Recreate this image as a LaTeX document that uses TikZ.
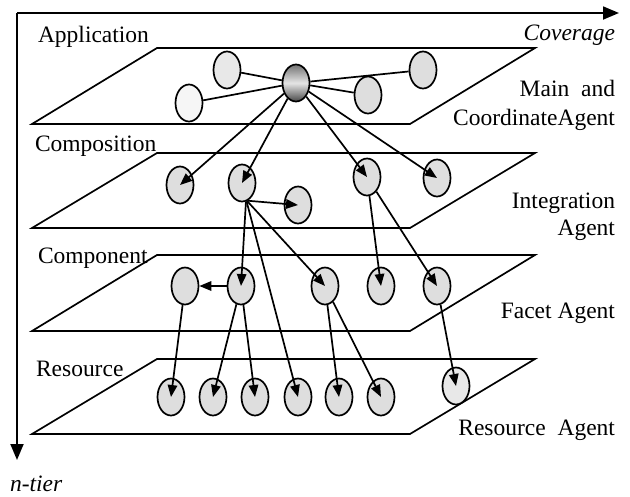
\documentclass[tikz,border=0pt]{standalone}
\usepackage{fontspec}
\setmainfont{Liberation Serif}
\usetikzlibrary{shapes.geometric,arrows.meta}
\definecolor{agentfill}{gray}{0.87}
\definecolor{agentlight}{gray}{0.91}
\definecolor{agentpale}{gray}{0.965}
\tikzset{
  lbl/.style={font=\fontsize{23.5}{30}\selectfont, inner sep=0pt, outer sep=0pt},
  plane/.style={draw, line width=1.7pt, line join=miter},
  agent/.style={ellipse, draw, line width=1.7pt, minimum width=27pt, minimum height=37pt, inner sep=0pt, fill=agentfill},
  link/.style={line width=1.7pt},
  arr/.style={line width=1.7pt, -{Triangle[length=12pt,width=9.5pt]}},
  axis/.style={line width=1.8pt, -{Triangle[length=16pt,width=13pt]}},
}
\begin{document}
\begin{tikzpicture}[x=1pt,y=-1pt]
\useasboundingbox (0,0) rectangle (630,496);
% axes
\coordinate (origin) at (17,13);
\coordinate (xend) at (619,13);
\coordinate (yend) at (17,460);
\draw[axis] (origin) -- (xend);
\draw[axis] (origin) -- (yend);
% planes
\draw[plane] (32,124) -- (157,48) -- (535,48) -- (410,124) -- cycle;
\draw[plane] (32,228) -- (157,153) -- (535,153) -- (410,228) -- cycle;
\draw[plane] (32,331) -- (157,255) -- (535,255) -- (410,331) -- cycle;
\draw[plane] (32,434) -- (157,359) -- (535,359) -- (410,434) -- cycle;
% labels
\node[lbl, anchor=base west] (lapp) at (38,42.7) {Application};
\node[lbl, anchor=base west] (lcps) at (35,151.7) {Composition};
\node[lbl, anchor=base west] (lcmp) at (38,263.3) {Component};
\node[lbl, anchor=base west] (lres) at (36,376) {Resource};
\node[lbl, anchor=base east] (lcov) at (615,40.7) {\itshape Coverage};
\node[lbl, anchor=base west] (ltier) at (10,491.7) {\itshape n-tier};
\node[lbl, anchor=base east] (lmain) at (615,96.7) {Main\ \ and};
\node[lbl, anchor=base east] (lcoord) at (615,125) {CoordinateAgent};
\node[lbl, anchor=base east] (lint) at (615,208.3) {Integration};
\node[lbl, anchor=base east] (lintb) at (615,235) {Agent};
\node[lbl, anchor=base east] (lfac) at (615,318) {Facet Agent};
\node[lbl, anchor=base east] (lresag) at (615,435) {Resource\ \ Agent};
% application tier
\node[agent, top color=black!55, bottom color=black!72, middle color=white!90!black] (main) at (296,83) {};
\node[agent, fill=agentpale] (e1) at (189,103) {};
\node[agent, fill=agentlight] (e2) at (227,70) {};
\node[agent] (e3) at (368,95) {};
\node[agent] (e4) at (423,70) {};
% composition tier
\node[agent] (c1) at (180,185) {};
\node[agent] (c2) at (242,183) {};
\node[agent] (c3) at (298,205) {};
\node[agent] (c4) at (367,177) {};
\node[agent] (c5) at (437,178) {};
% component tier
\node[agent] (p1) at (185,286) {};
\node[agent] (p2) at (241,286) {};
\node[agent] (p3) at (325,286) {};
\node[agent] (p4) at (381,286) {};
\node[agent] (p5) at (437,286) {};
% resource tier
\node[agent] (r1) at (171,397) {};
\node[agent] (r2) at (213,397) {};
\node[agent] (r3) at (255,397) {};
\node[agent] (r4) at (298,397) {};
\node[agent] (r5) at (339,397) {};
\node[agent] (r6) at (381,397) {};
\node[agent, fill=agentlight] (r7) at (456,386) {};
% links in application tier
\draw[link] (main) -- (e1);
\draw[link] (main) -- (e2);
\draw[link] (main) -- (e3);
\draw[link] (main) -- (e4);
% arrows
\draw[arr] (main) -- (c1.center);
\draw[arr] (main) -- (c2.center);
\draw[arr] (main) -- (c4.center);
\draw[arr] (main) -- (c5.center);
\draw[arr] (c2.-72) -- (c3.center);
\draw[arr] (c2.-78) -- (p2.center);
\draw[arr] (c2.-74) -- (p3.center);
\draw[arr] (c2.-76) -- (r4.center);
\draw[arr] (c4) -- (p4.center);
\draw[arr] (c4) -- (p5.center);
\draw[arr] (p2) -- (p1);
\draw[arr] (p1) -- (r1.center);
\draw[arr] (p2) -- (r2.center);
\draw[arr] (p2) -- (r3.center);
\draw[arr] (p3) -- (r5.center);
\draw[arr] (p3) -- (r6.center);
\draw[arr] (p5) -- (r7.center);
\end{tikzpicture}
\end{document}
